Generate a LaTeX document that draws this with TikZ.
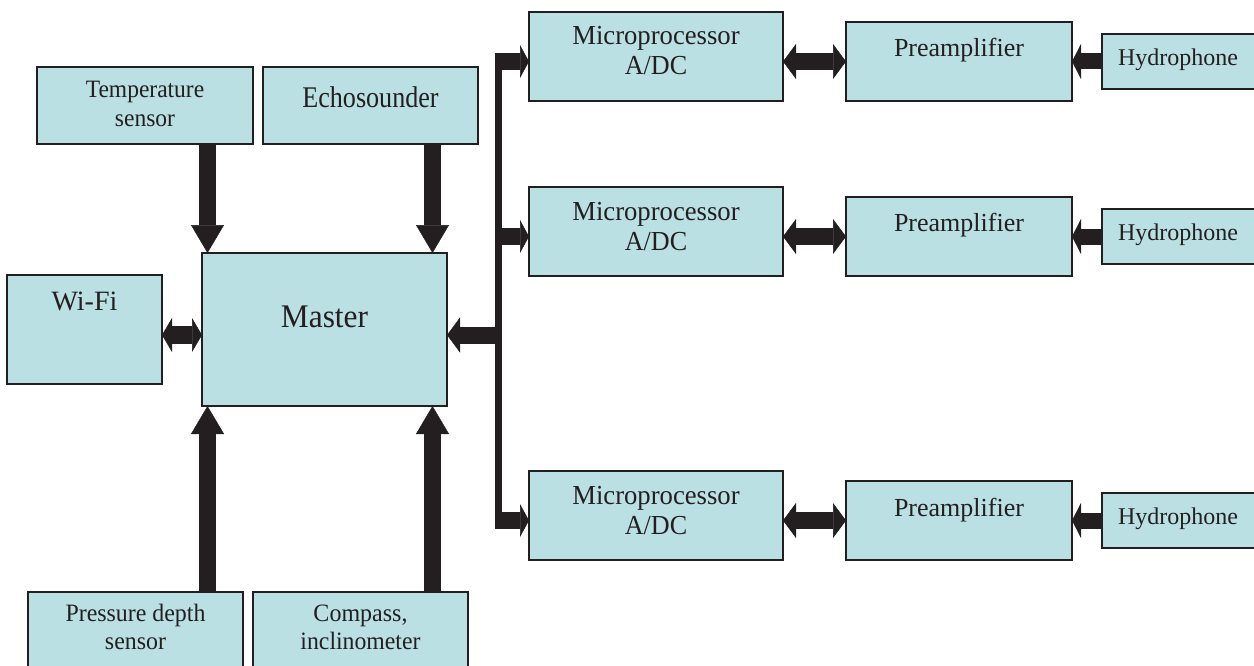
\documentclass[tikz,border=0pt]{standalone}
\usepackage{fontspec}
\setmainfont{Liberation Serif}
\usepackage{graphicx}
\usetikzlibrary{arrows.meta,calc}
\definecolor{boxfill}{RGB}{186,224,227}
\definecolor{edge}{RGB}{35,31,32}
\newcommand{\tx}[3]{\fontsize{#1}{#1}\selectfont\scalebox{#2}[1]{#3}}
\begin{document}
\begin{tikzpicture}[x=1pt,y=-1pt,
  box/.style={draw=edge, fill=boxfill, line width=1.8pt, inner sep=0pt, outer sep=0pt},
  txt/.style={anchor=base, inner sep=0pt, text=edge},
  vin/.style={draw=edge, line width=17pt, -{Triangle[width=33pt,length=28pt,line width=0.5pt]}},
  busarr/.style={draw=edge, line width=17pt, -{Triangle[width=33pt,length=9pt,line width=0.5pt]}},
  marr/.style={draw=edge, line width=17pt, -{Triangle[width=35pt,length=13pt,line width=0.5pt]}},
  dbl/.style={draw=edge, line width=17pt, {Triangle[width=35pt,length=13pt,line width=0.5pt]}-{Triangle[width=35pt,length=13pt,line width=0.5pt]}},
  wdbl/.style={draw=edge, line width=18pt, {Triangle[width=34pt,length=10pt,line width=0.5pt]}-{Triangle[width=34pt,length=10pt,line width=0.5pt]}},
  harr/.style={draw=edge, line width=16pt, -{Triangle[width=35pt,length=9pt,line width=0.5pt]}},
  bus/.style={draw=edge, line width=7pt}
]
\useasboundingbox (0,0) rectangle (1254,666);

% left part boxes
\node[box, minimum width=216, minimum height=77] (temp) at (145,105.5) {};
\node[box, minimum width=215, minimum height=77] (echo) at (370.5,105.5) {};
\node[box, minimum width=155, minimum height=109] (wifi) at (84.5,329.5) {};
\node[box, minimum width=245, minimum height=153] (master) at (324.5,329.5) {};
\node[box, minimum width=215, minimum height=88] (press) at (135.5,636) {};
\node[box, minimum width=215, minimum height=88] (comp) at (360.5,636) {};

\node[txt] (temp-a) at (145,98) {\tx{25}{0.94}{Temperature}};
\node[txt] (temp-b) at (145,127) {\tx{25}{0.94}{sensor}};
\node[txt] (echo-a) at (370.5,108) {\tx{30}{0.87}{Echosounder}};
\node[txt] (wifi-a) at (84.5,310) {\tx{28}{1}{Wi-Fi}};
\node[txt] (master-a) at (324.5,327) {\tx{33}{0.95}{Master}};
\node[txt] (press-a) at (135.5,621.5) {\tx{25}{0.955}{Pressure depth}};
\node[txt] (press-b) at (135.5,649) {\tx{25}{0.955}{sensor}};
\node[txt] (comp-a) at (360.5,621.5) {\tx{25}{0.96}{Compass,}};
\node[txt] (comp-b) at (360.5,649) {\tx{25}{0.95}{inclinometer}};

% right rows
\foreach \i/\T in {1/12,2/187,3/471}{
  \node[box, minimum width=254, minimum height=89] (m\i) at (656,\T+44.5) {};
  \node[box, minimum width=226, minimum height=79] (p\i) at (959,\T+49.5) {};
  \node[box, minimum width=180, minimum height=55] (h\i) at (1192,\T+49.5) {};
  \node[txt] (m\i-a) at (656,\T+33) {\tx{27.5}{0.97}{Microprocessor}};
  \node[txt] (m\i-b) at (656,\T+63) {\tx{27.5}{0.95}{A/DC}};
  \node[txt] (p\i-a) at (959,\T+45) {\tx{26}{1}{Preamplifier}};
  \node[txt] (h\i-a) at (1178,\T+53.7) {\tx{24}{1}{Hydrophone}};
  \coordinate (b\i) at (495,\T+49.5);
  \draw[busarr] (b\i) -- (m\i.west |- b\i);
  \draw[dbl] (m\i.east |- p\i.west) -- (p\i.west);
  \draw[harr] (h\i.west) -- (p\i.east);
}

% bus
\coordinate (btop) at (498.5,53);
\coordinate (bbot) at (498.5,528);
\draw[bus] (btop) -- (bbot);
\coordinate (bm) at (498.5,335);
\draw[marr] (bm) -- (bm -| master.east);

% master connections
\coordinate (mw) at ($(master.west)+(0,5.5)$);
\draw[wdbl] (wifi.east |- mw) -- (mw);
\coordinate (mtl) at ($(master.north west)+(5.5,0)$);
\coordinate (mtr) at ($(master.north east)+(-14.5,0)$);
\coordinate (mbl) at ($(master.south west)+(5.5,0)$);
\coordinate (mbr) at ($(master.south east)+(-14.5,0)$);
\draw[vin] (temp.south -| mtl) -- (mtl);
\draw[vin] (echo.south -| mtr) -- (mtr);
\draw[vin] (press.north -| mbl) -- (mbl);
\draw[vin] (comp.north -| mbr) -- (mbr);
\end{tikzpicture}
\end{document}
